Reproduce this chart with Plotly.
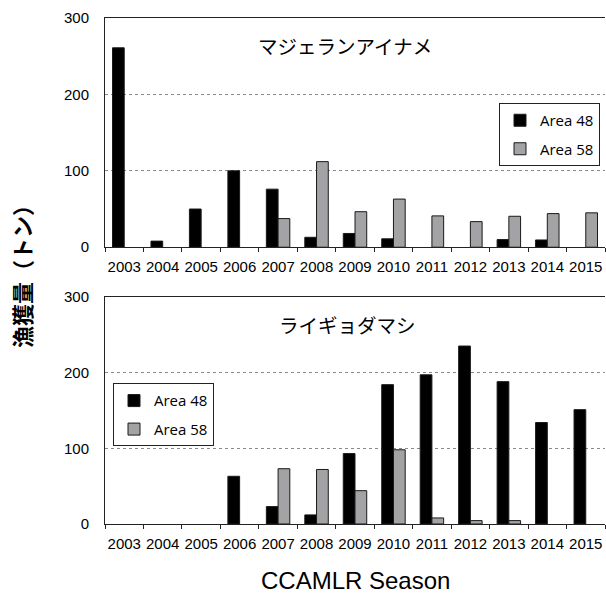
import plotly.graph_objects as go

seasons = ["2003", "2004", "2005", "2006", "2007", "2008", "2009",
           "2010", "2011", "2012", "2013", "2014", "2015"]

# マジェランアイナメ (Patagonian toothfish); None = no catch shown
toothfish_area48 = [261, 8, 50, 100, 76, 13, 18, 11, None, None, 10, 9.5, None]
toothfish_area58 = [None, None, None, None, 37.5, 112, 46.5, 63, 41, 33.5, 40.5, 44, 45]

# ライギョダマシ (Antarctic toothfish)
antarctic_area48 = [None, None, None, 63, 23, 12, 93, 184, 197, 235, 188, 134, 151]
antarctic_area58 = [None, None, None, None, 73, 72, 44, 98, 8, 4.5, 4.5, None, None]

title_top = "マジェランアイナメ"
title_bottom = "ライギョダマシ"
y_title = "漁獲量（トン）"
x_title = "CCAMLR Season"
y_ticks = [0, 100, 200, 300]

BLACK = "#000000"
GRAY = "#a3a3a6"
EDGE = "#1a1a1a"

fig = go.Figure()

fig.add_trace(go.Bar(x=seasons, y=toothfish_area48, name="Area 48",
                     marker=dict(color=BLACK, line=dict(color=EDGE, width=1)),
                     xaxis="x", yaxis="y", legend="legend", legendgroup="a"))
fig.add_trace(go.Bar(x=seasons, y=toothfish_area58, name="Area 58",
                     marker=dict(color=GRAY, line=dict(color=EDGE, width=1)),
                     xaxis="x", yaxis="y", legend="legend", legendgroup="b"))
fig.add_trace(go.Bar(x=seasons, y=antarctic_area48, name="Area 48",
                     marker=dict(color=BLACK, line=dict(color=EDGE, width=1)),
                     xaxis="x2", yaxis="y2", legend="legend2", legendgroup="c"))
fig.add_trace(go.Bar(x=seasons, y=antarctic_area58, name="Area 58",
                     marker=dict(color=GRAY, line=dict(color=EDGE, width=1)),
                     xaxis="x2", yaxis="y2", legend="legend2", legendgroup="d"))

tickfont = dict(family="Liberation Sans", size=15, color="#000")

xaxis_common = dict(
    type="category", showline=True, linecolor="#222", linewidth=1, mirror=True,
    ticks="outside", tickson="boundaries", ticklen=4, tickcolor="#222",
    tickfont=tickfont, tickangle=0, ticklabelstandoff=6,
    showgrid=False, fixedrange=True, automargin=False,
)
yaxis_common = dict(
    range=[0, 300], tickvals=y_ticks, showline=True, linecolor="#222", linewidth=1,
    ticks="", ticklabelstandoff=12, tickfont=tickfont,
    showgrid=True, gridcolor="#8a8a8a", griddash="dot", gridwidth=1,
    zeroline=False, fixedrange=True, automargin=False,
)

legend_common = dict(
    font=dict(family="Open Sans", size=15, color="#000"),
    bgcolor="#ffffff", bordercolor="#222", borderwidth=1,
    traceorder="grouped", tracegroupgap=6, itemwidth=30,
    yanchor="top",
)

fig.update_layout(
    width=606, height=595,
    margin=dict(l=105, r=1, t=18, b=71, autoexpand=False),
    paper_bgcolor="white", plot_bgcolor="white",
    barmode="group", bargap=0.39, bargroupgap=0,
    xaxis=dict(**xaxis_common, anchor="y"),
    yaxis=dict(**yaxis_common, domain=[0.547, 1.0], anchor="x"),
    xaxis2=dict(**xaxis_common, anchor="y2"),
    yaxis2=dict(**yaxis_common, domain=[0.0, 0.449], anchor="x2"),
    legend=dict(**legend_common, x=0.99, xanchor="right", y=0.832),
    legend2=dict(**legend_common, x=0.016, xanchor="left", y=0.278),
    annotations=[
        dict(text=title_top, x=0.48, y=0.946, xref="paper", yref="paper",
             showarrow=False, xanchor="center", yanchor="middle",
             font=dict(family="Noto Sans CJK JP", size=19.5, color="#000")),
        dict(text=title_bottom, x=0.484, y=0.395, xref="paper", yref="paper",
             showarrow=False, xanchor="center", yanchor="middle",
             font=dict(family="Noto Sans CJK JP", size=19.5, color="#000")),
        dict(text=y_title, x=-0.168, y=0.5, xref="paper", yref="paper",
             showarrow=False, textangle=-90, xanchor="center", yanchor="middle",
             font=dict(family="Noto Sans CJK JP", size=22, color="#000", weight="bold")),
        dict(text=x_title, x=0.5, y=-0.112, xref="paper", yref="paper",
             showarrow=False, xanchor="center", yanchor="middle",
             font=dict(family="Liberation Sans", size=24, color="#000")),
    ],
)

fig.write_html("out.html", config={"displayModeBar": False},
               post_script="document.body.style.margin='0';document.body.style.overflow='hidden';")
